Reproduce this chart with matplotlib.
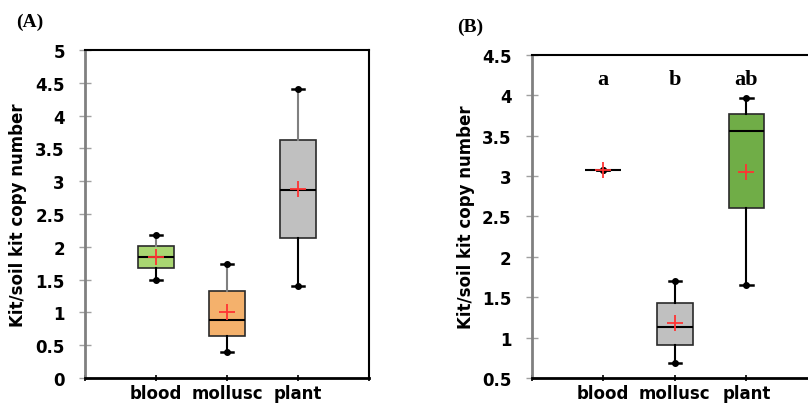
import matplotlib
matplotlib.use("Agg")
import matplotlib.pyplot as plt

cats = ['blood', 'mollusc', 'plant']

A_whislo = [1.49, 0.39, 1.41]
A_q1 = [1.67, 0.64, 2.14]
A_med = [1.84, 0.89, 2.86]
A_q3 = [2.01, 1.32, 3.63]
A_whishi = [2.18, 1.74, 4.40]
A_mean = [1.84, 1.01, 2.88]
A_colors = ['#a9d672', '#f4b16c', '#c0c0c0']
A_yticks = [0, 0.5, 1, 1.5, 2, 2.5, 3, 3.5, 4, 4.5, 5]
A_yticklabels = ['0', '0.5', '1', '1.5', '2', '2.5', '3', '3.5', '4', '4.5', '5']

B_whislo = [3.07, 0.68, 1.65]
B_q1 = [3.07, 0.91, 2.60]
B_med = [3.07, 1.135, 3.56]
B_q3 = [3.07, 1.425, 3.765]
B_whishi = [3.07, 1.70, 3.97]
B_mean = [3.08, 1.18, 3.055]
B_colors = ['#ffffff', '#c0c0c0', '#70ad47']
B_letters = ['a', 'b', 'ab']
B_yticks = [0.5, 1, 1.5, 2, 2.5, 3, 3.5, 4, 4.5]
B_yticklabels = ['0.5', '1', '1.5', '2', '2.5', '3', '3.5', '4', '4.5']

ylabel = 'Kit/soil kit copy number'

fig = plt.figure(figsize=(8.08, 4.06), dpi=100)
axA = fig.add_axes([0.1052, 0.0665, 0.3515, 0.8079])
axB = fig.add_axes([0.658, 0.0665, 0.3545, 0.7956])

tickfont = dict(family='DejaVu Sans', weight='bold', size=12)


def draw(ax, whislo, q1, med, q3, whishi, mean, colors, upper_gray):
    pos = list(range(1, len(cats) + 1))
    stats = []
    for i in range(len(cats)):
        stats.append(dict(whislo=whislo[i], q1=q1[i], med=med[i], q3=q3[i],
                          whishi=whishi[i], fliers=[], label=cats[i]))
    res = ax.bxp(stats, positions=pos, widths=0.5, patch_artist=True,
                 showfliers=False, capwidths=0.17,
                 boxprops=dict(edgecolor='#2a2a2a', linewidth=1.2),
                 medianprops=dict(color='black', linewidth=1.5),
                 whiskerprops=dict(color='black', linewidth=1.5),
                 capprops=dict(color='black', linewidth=1.8))
    for patch, c in zip(res['boxes'], colors):
        patch.set_facecolor(c)
    if upper_gray:
        for j, w in enumerate(res['whiskers']):
            if j % 2 == 1:
                w.set_color('#808080')
    ax.plot(pos, whislo, 'o', color='black', ms=4, zorder=4)
    ax.plot(pos, whishi, 'o', color='black', ms=4, zorder=4)
    ax.plot(pos, mean, '+', color='#ff3333', ms=11, mew=1.3, zorder=5)
    ax.set_xlim(0, 4)
    ax.set_xticks([0, 1, 2, 3, 4])
    ax.set_xticklabels([''] + cats + [''], **tickfont)
    ax.tick_params(axis='x', direction='inout', length=5, width=1.2,
                   color='black', pad=2)
    ax.tick_params(axis='y', direction='inout', length=9, width=1,
                   color='#a0a0a0', pad=10)
    ax.spines['left'].set_color('#808080')
    ax.spines['left'].set_linewidth(2)
    ax.spines['bottom'].set_linewidth(2)
    ax.spines['top'].set_linewidth(1.5)
    ax.spines['right'].set_linewidth(1.5)
    ax.set_ylabel(ylabel, family='DejaVu Sans', weight='bold', size=12)


draw(axA, A_whislo, A_q1, A_med, A_q3, A_whishi, A_mean, A_colors, True)
axA.set_ylim(0, 5)
axA.set_yticks(A_yticks)
axA.set_yticklabels(A_yticklabels, **tickfont)
axA.yaxis.set_label_coords(-0.205, 0.5)

draw(axB, B_whislo, B_q1, B_med, B_q3, B_whishi, B_mean, B_colors, False)
axB.set_ylim(0.5, 4.5)
axB.set_yticks(B_yticks)
axB.set_yticklabels(B_yticklabels, **tickfont)
axB.yaxis.set_label_coords(-0.198, 0.5)
for i, t in enumerate(B_letters):
    axB.text(i + 1, 4.2, t, ha='center', va='center',
             family='Liberation Serif', weight='bold', size=16)

fig.text(30 / 808, 1 - 22 / 406, '(A)', ha='center', va='center',
         family='Liberation Serif', weight='bold', size=14)
fig.text(470 / 808, 1 - 27 / 406, '(B)', ha='center', va='center',
         family='Liberation Serif', weight='bold', size=14)

fig.savefig('out.png', dpi=100)
